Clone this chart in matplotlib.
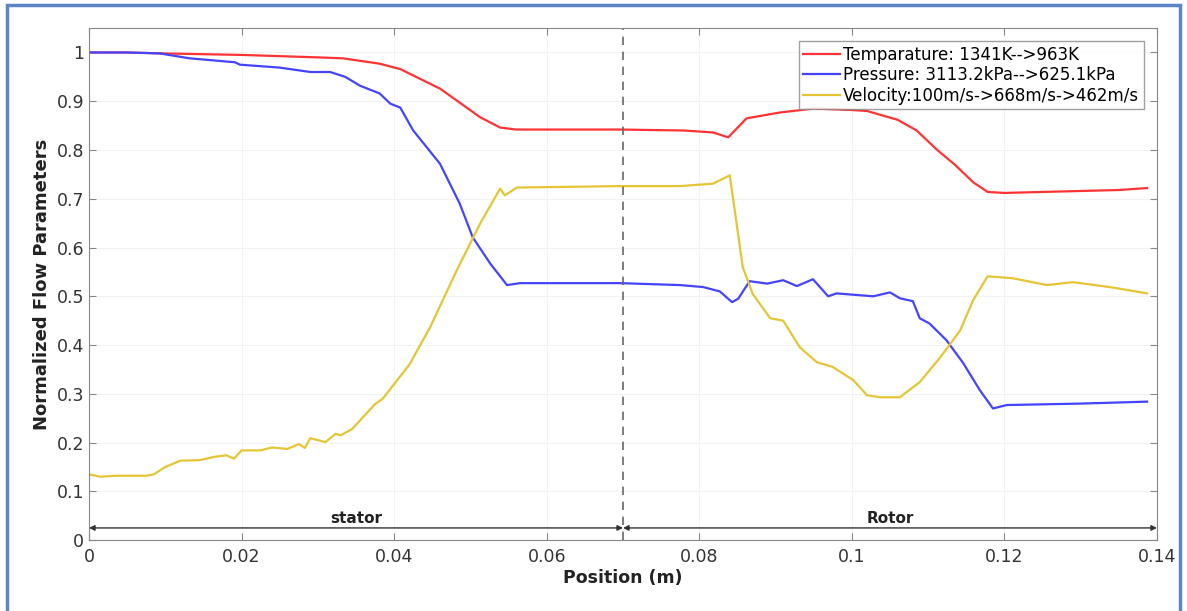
import matplotlib.pyplot as plt
from matplotlib.patches import Rectangle

# Temperature (normalized)
temp_x = [0, 0.005, 0.01, 0.02, 0.03, 0.0333, 0.0381, 0.0408, 0.046, 0.0513, 0.0539,
          0.0560, 0.0696, 0.0780, 0.0818, 0.0838, 0.0862, 0.0906, 0.095, 0.100, 0.102,
          0.106, 0.1085, 0.1112, 0.1135, 0.1159, 0.1178, 0.120, 0.125, 0.130, 0.135, 0.1387]
temp_y = [1.0, 1.0, 0.998, 0.995, 0.99, 0.988, 0.977, 0.966, 0.926, 0.867, 0.846,
          0.842, 0.842, 0.840, 0.836, 0.826, 0.865, 0.877, 0.885, 0.882, 0.880,
          0.862, 0.840, 0.800, 0.770, 0.734, 0.714, 0.712, 0.714, 0.716, 0.718, 0.722]

# Pressure (normalized)
pres_x = [0, 0.005, 0.0093, 0.0132, 0.0191, 0.0198, 0.025, 0.029, 0.0316, 0.0336, 0.0355,
          0.0381, 0.0395, 0.0408, 0.0425, 0.046, 0.0486, 0.0503, 0.0526, 0.0548, 0.0565,
          0.0696, 0.0775, 0.0805, 0.0827, 0.0843, 0.0851, 0.0866, 0.0889, 0.091, 0.0928,
          0.0949, 0.0969, 0.098, 0.1028, 0.105, 0.1063, 0.108, 0.1089, 0.1102, 0.1124,
          0.1146, 0.1168, 0.1185, 0.1203, 0.130, 0.1387]
pres_y = [1.0, 1.0, 0.998, 0.988, 0.98, 0.975, 0.969, 0.96, 0.96, 0.95, 0.932,
          0.916, 0.895, 0.887, 0.84, 0.772, 0.69, 0.621, 0.567, 0.523, 0.527,
          0.527, 0.523, 0.519, 0.510, 0.488, 0.495, 0.531, 0.526, 0.533, 0.521,
          0.535, 0.500, 0.506, 0.500, 0.508, 0.496, 0.490, 0.455, 0.444, 0.410,
          0.363, 0.307, 0.270, 0.277, 0.280, 0.284]

# Velocity (normalized)
vel_x = [0, 0.0015, 0.0035, 0.0075, 0.0085, 0.010, 0.012, 0.0145, 0.0165, 0.018, 0.019,
         0.020, 0.0225, 0.024, 0.026, 0.0275, 0.0283, 0.029, 0.031, 0.0323, 0.033,
         0.0345, 0.0365, 0.0375, 0.0385, 0.040, 0.042, 0.0447, 0.0482, 0.0513, 0.0539,
         0.0545, 0.0561, 0.0696, 0.0775, 0.0818, 0.084, 0.0857, 0.087, 0.0893, 0.091,
         0.0932, 0.0954, 0.0975, 0.1002, 0.102, 0.1037, 0.1063, 0.1089, 0.1116, 0.1142,
         0.1159, 0.1178, 0.1211, 0.1256, 0.129, 0.1342, 0.1387]
vel_y = [0.135, 0.13, 0.132, 0.132, 0.135, 0.15, 0.163, 0.164, 0.171, 0.174, 0.167,
         0.184, 0.184, 0.19, 0.187, 0.197, 0.189, 0.209, 0.201, 0.218, 0.215,
         0.228, 0.262, 0.279, 0.29, 0.32, 0.36, 0.436, 0.553, 0.65, 0.721,
         0.707, 0.723, 0.726, 0.726, 0.731, 0.748, 0.56, 0.505, 0.455, 0.45,
         0.395, 0.365, 0.355, 0.328, 0.297, 0.293, 0.293, 0.324, 0.375, 0.43,
         0.492, 0.541, 0.537, 0.523, 0.529, 0.518, 0.506]

labels = ['Temparature: 1341K-->963K',
          'Pressure: 3113.2kPa-->625.1kPa',
          'Velocity:100m/s->668m/s->462m/s']
colors = ['#ff3333', '#4444ff', '#e5c535']

x_ticks = [0, 0.02, 0.04, 0.06, 0.08, 0.1, 0.12, 0.14]
x_tick_labels = ['0', '0.02', '0.04', '0.06', '0.08', '0.1', '0.12', '0.14']
y_ticks = [0, 0.1, 0.2, 0.3, 0.4, 0.5, 0.6, 0.7, 0.8, 0.9, 1.0]
y_tick_labels = ['0', '0.1', '0.2', '0.3', '0.4', '0.5', '0.6', '0.7', '0.8', '0.9', '1']

split_x = 0.07
x_max = 0.14

fig = plt.figure(figsize=(11.87, 6.11), dpi=100)
# blue frame around the whole picture
fig.patches.append(Rectangle((0.006, -0.02), 0.988, 1.012, transform=fig.transFigure,
                             fill=False, edgecolor='#5b87c8', linewidth=2.5))

ax = fig.add_axes([0.075, 0.116, 0.8997, 0.838])

ax.plot(temp_x, temp_y, color=colors[0], lw=1.6, label=labels[0])
ax.plot(pres_x, pres_y, color=colors[1], lw=1.6, label=labels[1])
ax.plot(vel_x, vel_y, color=colors[2], lw=1.6, label=labels[2])

ax.axvline(split_x, color='#666666', lw=1.2, ls=(0, (5, 4)))

# stator / rotor arrows
arrow_y = 0.025
ax.annotate('', xy=(0, arrow_y), xytext=(split_x, arrow_y),
            arrowprops=dict(arrowstyle='<|-|>', color='#333333', lw=1, mutation_scale=8,
                            shrinkA=0, shrinkB=0))
ax.annotate('', xy=(split_x, arrow_y), xytext=(x_max, arrow_y),
            arrowprops=dict(arrowstyle='<|-|>', color='#333333', lw=1, mutation_scale=8,
                            shrinkA=0, shrinkB=0))
ax.text(split_x / 2, arrow_y + 0.003, 'stator', ha='center', va='bottom',
        fontsize=11, fontweight='bold', color='#222222')
ax.text((split_x + x_max) / 2, arrow_y + 0.003, 'Rotor', ha='center', va='bottom',
        fontsize=11, fontweight='bold', color='#222222')

ax.set_xlim(0, x_max)
ax.set_ylim(0, 1.05)
ax.set_xticks(x_ticks)
ax.set_xticklabels(x_tick_labels)
ax.set_yticks(y_ticks)
ax.set_yticklabels(y_tick_labels)
ax.tick_params(direction='in', top=True, right=True, length=5, color='#888888',
               labelsize=12.5, labelcolor='#333333')
ax.tick_params(axis='x', pad=6)
ax.grid(True, color='#f2f2f2', lw=0.8)
for s in ax.spines.values():
    s.set_color('#888888')

ax.set_xlabel('Position (m)', fontsize=12.5, fontweight='bold', color='#222222', labelpad=2)
ax.set_ylabel('Normalized Flow Parameters', fontsize=13, fontweight='bold', color='#222222',
              labelpad=4)

leg = ax.legend(loc='upper right', fontsize=12, frameon=True, fancybox=False,
                handlelength=2.2, handletextpad=0.2, borderpad=0.25, labelspacing=0.15,
                borderaxespad=0.8)
leg.get_frame().set_edgecolor('#888888')
leg.get_frame().set_linewidth(1)

fig.savefig('out.png', dpi=100)
